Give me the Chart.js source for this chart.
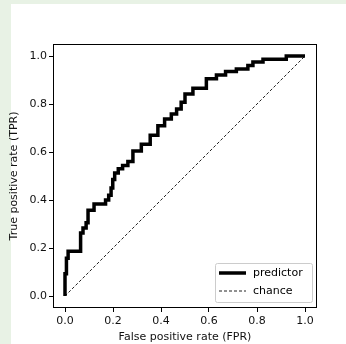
<!DOCTYPE html>
<html>
<head>
<meta charset="utf-8">
<script src="https://cdn.jsdelivr.net/npm/chart.js@4"></script>
<style>
  html, body { margin: 0; padding: 0; }
  body { width: 346px; height: 344px; background: #e8f2e5; position: relative; overflow: hidden; }
  #panel { position: absolute; left: 11px; top: 4px; right: 0; bottom: 0; background: #fff; }
  #wrap { position: absolute; left: 0; top: 0; width: 346px; height: 344px; }
</style>
</head>
<body>
<div id="panel"></div>
<div id="wrap"><canvas id="roc" width="346" height="344"></canvas></div>
<script>
// ROC curve corners (step drawn vertical first, then horizontal)
const fpr = [0, 0.006, 0.013, 0.065, 0.075, 0.088, 0.096, 0.121, 0.169, 0.182, 0.192, 0.199,
  0.207, 0.222, 0.240, 0.262, 0.283, 0.318, 0.355, 0.387, 0.415, 0.443, 0.465, 0.484, 0.500,
  0.533, 0.589, 0.631, 0.669, 0.714, 0.762, 0.783, 0.825, 0.922, 1.0];
const tpr = [0, 0.093, 0.157, 0.186, 0.262, 0.283, 0.305, 0.357, 0.383, 0.400, 0.420, 0.450,
  0.485, 0.513, 0.530, 0.544, 0.560, 0.604, 0.632, 0.670, 0.709, 0.737, 0.758, 0.779, 0.807,
  0.842, 0.866, 0.905, 0.921, 0.935, 0.946, 0.960, 0.975, 0.986, 1.0];
const chanceX = [0, 1];
const chanceY = [0, 1];
const xTicks = [0, 0.2, 0.4, 0.6, 0.8, 1.0];
const yTicks = [0, 0.2, 0.4, 0.6, 0.8, 1.0];
const seriesNames = ['predictor', 'chance'];

const FONT = 'DejaVu Sans';
const FS = 11;

// Plugin: full axes frame (matplotlib spines)
const FramePlugin = {
  id: 'frame',
  afterDraw(chart) {
    const { ctx, chartArea: a } = chart;
    ctx.save();
    ctx.strokeStyle = '#000';
    ctx.lineWidth = 1;
    ctx.strokeRect(Math.round(a.left) + 0.5, Math.round(a.top) + 0.5,
      Math.round(a.right - a.left) - 1, Math.round(a.bottom - a.top) - 1);
    ctx.restore();
  }
};

// Plugin: legend box in lower right of plot area
const InnerLegendPlugin = {
  id: 'innerLegend',
  afterDraw(chart) {
    const { ctx, chartArea: a } = chart;
    const w = 97, h = 39;
    const x0 = a.right - 5 - w, y0 = a.bottom - 6 - h;
    ctx.save();
    ctx.fillStyle = 'rgba(255,255,255,0.8)';
    ctx.strokeStyle = '#cccccc';
    ctx.lineWidth = 1;
    ctx.beginPath();
    ctx.roundRect(x0 + 0.5, y0 + 0.5, w, h, 2);
    ctx.fill();
    ctx.stroke();
    chart.data.datasets.forEach((ds, i) => {
      const y = y0 + 10 + i * 18;
      ctx.strokeStyle = ds.borderColor;
      ctx.lineWidth = ds.borderWidth;
      ctx.setLineDash(ds.borderDash || []);
      ctx.beginPath();
      ctx.moveTo(x0 + 4, y);
      ctx.lineTo(x0 + 31, y);
      ctx.stroke();
      ctx.setLineDash([]);
      ctx.fillStyle = '#000';
      ctx.font = FS + 'px "' + FONT + '"';
      ctx.textBaseline = 'middle';
      ctx.textAlign = 'left';
      ctx.fillText(ds.label, x0 + 38, y);
    });
    ctx.restore();
  }
};

new Chart(document.getElementById('roc'), {
  type: 'scatter',
  plugins: [FramePlugin, InnerLegendPlugin],
  data: {
    datasets: [
      {
        label: seriesNames[0],
        data: fpr.map((x, i) => ({ x, y: tpr[i] })),
        showLine: true,
        stepped: 'after',
        borderColor: '#000',
        borderWidth: 3.5,
        pointRadius: 0,
        borderJoinStyle: 'miter',
        borderCapStyle: 'butt'
      },
      {
        label: seriesNames[1],
        data: chanceX.map((x, i) => ({ x, y: chanceY[i] })),
        showLine: true,
        borderColor: '#222',
        borderWidth: 1,
        borderDash: [3, 2],
        pointRadius: 0
      }
    ]
  },
  options: {
    responsive: false,
    animation: false,
    devicePixelRatio: 1,
    layout: { padding: { left: 0, top: 44, right: 29, bottom: 0 } },
    plugins: { legend: { display: false }, tooltip: { enabled: false } },
    scales: {
      x: {
        type: 'linear', min: -0.05, max: 1.05,
        afterBuildTicks: s => { s.ticks = xTicks.map(v => ({ value: v })); },
        afterFit: s => { s.height = 36; },
        grid: { drawOnChartArea: false, drawTicks: true, tickLength: 4, color: '#000' },
        border: { display: false },
        ticks: { color: '#111', padding: 3, font: { family: FONT, size: FS }, callback: v => v.toFixed(1) },
        title: { display: true, text: 'False positive rate (FPR)', color: '#111', padding: 0, font: { family: FONT, size: FS } }
      },
      y: {
        type: 'linear', min: -0.05, max: 1.05,
        afterBuildTicks: s => { s.ticks = yTicks.map(v => ({ value: v })); },
        afterFit: s => { s.width = 53; },
        grid: { drawOnChartArea: false, drawTicks: true, tickLength: 4, color: '#000' },
        border: { display: false },
        ticks: { color: '#111', padding: 2, font: { family: FONT, size: FS }, callback: v => v.toFixed(1) },
        title: { display: true, text: 'True positive rate (TPR)', color: '#111', padding: { top: 8 }, font: { family: FONT, size: FS } }
      }
    }
  }
});
</script>
</body>
</html>
